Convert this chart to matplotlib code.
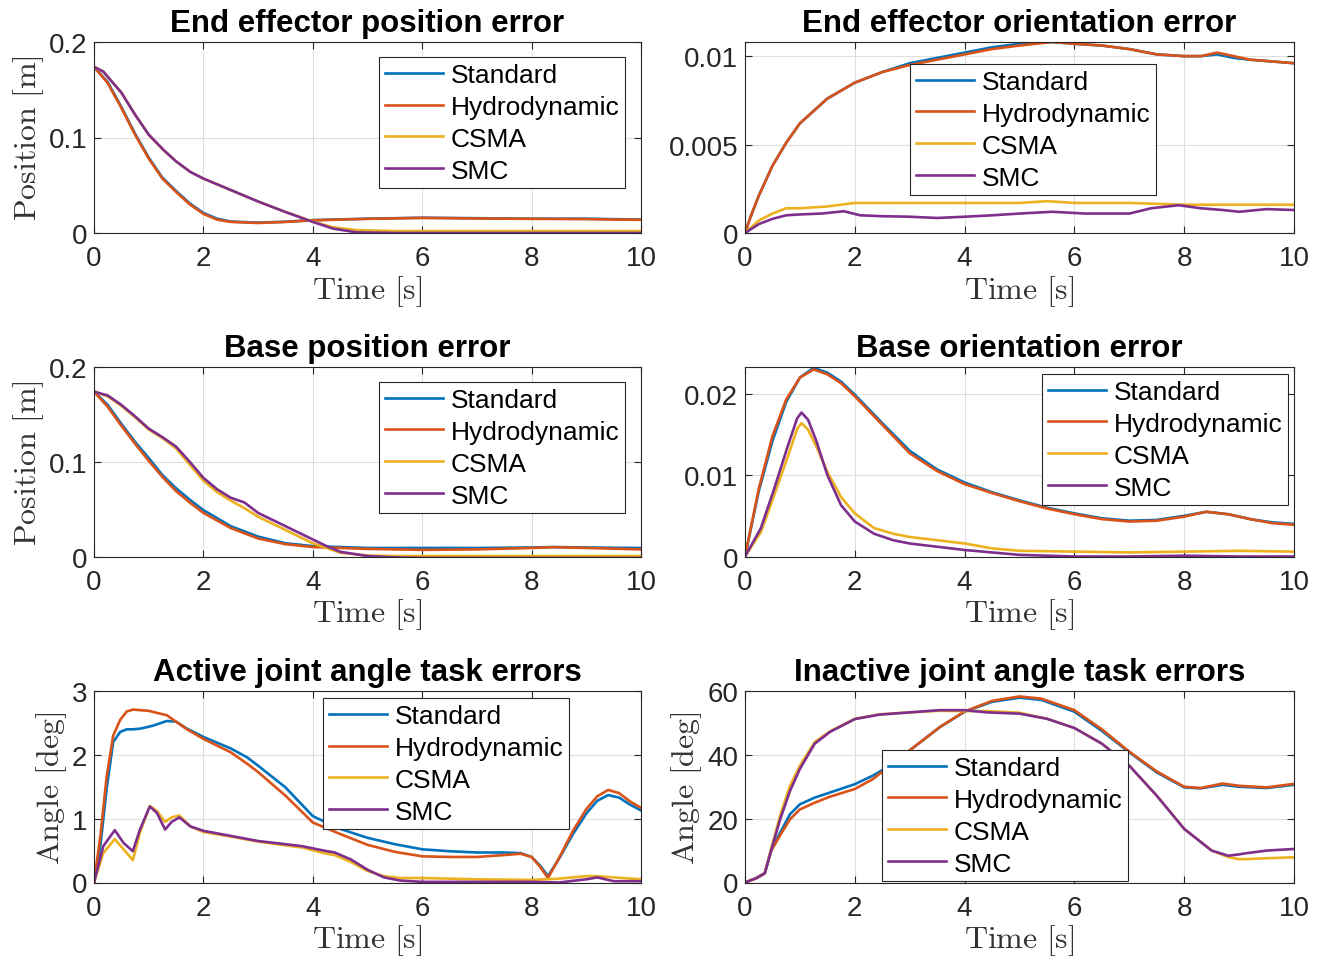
import matplotlib.pyplot as plt

plt.rcParams["font.family"] = ["Liberation Sans", "DejaVu Sans"]
plt.rcParams["mathtext.fontset"] = "cm"

# Series names and MATLAB default colours
names = ["Standard", "Hydrodynamic", "CSMA", "SMC"]
colors = ["#0072BD", "#D95319", "#EDB120", "#7E2F8E"]

# ---- End effector position error ----
t_eep_a = [0, 0.25, 0.5, 0.75, 1.0, 1.25, 1.5, 1.75, 2.0, 2.25, 2.5, 3.0, 3.5, 4.0, 5.0, 6.0, 7.0, 8.0, 9.0, 10.0]
eep_std = [0.174, 0.158, 0.132, 0.104, 0.079, 0.058, 0.044, 0.031, 0.021, 0.015, 0.012, 0.0108, 0.0118, 0.0135, 0.015, 0.016, 0.0155, 0.015, 0.015, 0.014]
eep_hyd = [0.174, 0.157, 0.131, 0.103, 0.078, 0.057, 0.043, 0.030, 0.020, 0.014, 0.0116, 0.0105, 0.0116, 0.0133, 0.0148, 0.0158, 0.0152, 0.0148, 0.0145, 0.0138]
t_eep_b = [0, 0.17, 0.5, 0.75, 1.0, 1.27, 1.5, 1.76, 2.0, 2.5, 3.0, 3.5, 4.0, 4.37, 4.8, 5.5, 6.0, 8.0, 10.0]
eep_csma = [0.174, 0.169, 0.147, 0.124, 0.103, 0.087, 0.075, 0.064, 0.057, 0.045, 0.033, 0.022, 0.012, 0.006, 0.003, 0.002, 0.002, 0.002, 0.002]
eep_smc = [0.174, 0.169, 0.147, 0.124, 0.103, 0.087, 0.075, 0.064, 0.057, 0.045, 0.033, 0.022, 0.0116, 0.0046, 0.0007, 0.0, 0.0, 0.0, 0.0]

# ---- End effector orientation error ----
t_eeo_a = [0, 0.1, 0.25, 0.5, 0.75, 1.0, 1.5, 2.0, 2.5, 3.0, 3.5, 4.0, 4.5, 5.0, 5.6, 6.0, 6.5, 7.0, 7.5, 8.0, 8.3, 8.6, 8.9, 9.2, 9.6, 10.0]
eeo_std = [0, 0.0009, 0.0021, 0.0038, 0.0051, 0.0062, 0.0076, 0.0085, 0.0091, 0.0096, 0.0099, 0.0102, 0.0105, 0.0107, 0.0108, 0.0107, 0.0106, 0.0104, 0.0101, 0.0100, 0.0100, 0.0101, 0.0099, 0.0098, 0.0097, 0.0096]
eeo_hyd = [0, 0.0009, 0.0021, 0.0038, 0.0051, 0.0062, 0.0076, 0.0085, 0.0091, 0.0095, 0.0098, 0.0101, 0.0104, 0.0106, 0.0108, 0.0107, 0.0106, 0.0104, 0.0101, 0.0100, 0.0100, 0.0102, 0.0100, 0.0098, 0.0097, 0.0096]
t_eeo_c = [0, 0.25, 0.5, 0.75, 1.0, 1.5, 2.0, 3.0, 4.0, 5.0, 5.5, 6.0, 7.0, 8.0, 9.0, 10.0]
eeo_csma = [0, 0.0007, 0.0011, 0.0014, 0.0014, 0.0015, 0.0017, 0.0017, 0.0017, 0.0017, 0.0018, 0.0017, 0.0017, 0.0016, 0.0016, 0.0016]
t_eeo_s = [0, 0.25, 0.5, 0.75, 1.0, 1.4, 1.8, 2.1, 2.5, 3.0, 3.5, 4.0, 4.5, 5.0, 5.6, 6.2, 7.0, 7.4, 7.9, 8.3, 8.7, 9.0, 9.5, 10.0]
eeo_smc = [0, 0.0005, 0.0008, 0.001, 0.00105, 0.0011, 0.00123, 0.001, 0.00095, 0.00092, 0.00085, 0.00092, 0.001, 0.0011, 0.0012, 0.0011, 0.0011, 0.0014, 0.00157, 0.0014, 0.0013, 0.0012, 0.00135, 0.0013]

# ---- Base position error ----
t_bp_a = [0, 0.25, 0.5, 0.75, 1.0, 1.25, 1.5, 1.75, 2.0, 2.5, 3.0, 3.5, 4.0, 4.5, 5.0, 6.0, 7.0, 8.0, 8.4, 9.0, 10.0]
bp_std = [0.174, 0.160, 0.140, 0.121, 0.104, 0.086, 0.072, 0.060, 0.049, 0.032, 0.021, 0.014, 0.011, 0.010, 0.009, 0.009, 0.009, 0.0095, 0.010, 0.0095, 0.009]
bp_hyd = [0.174, 0.158, 0.138, 0.119, 0.101, 0.084, 0.069, 0.057, 0.046, 0.030, 0.019, 0.013, 0.010, 0.009, 0.008, 0.007, 0.0075, 0.009, 0.0098, 0.009, 0.0075]
t_bp_b = [0, 0.25, 0.5, 0.75, 1.0, 1.25, 1.5, 1.75, 2.0, 2.25, 2.5, 2.75, 3.0, 3.5, 4.0, 4.25, 4.5, 5.0, 5.5, 6.0, 8.0, 10.0]
bp_csma = [0.174, 0.169, 0.159, 0.147, 0.134, 0.125, 0.114, 0.097, 0.080, 0.068, 0.059, 0.051, 0.042, 0.028, 0.014, 0.009, 0.004, 0.001, 0.0005, 0.0005, 0.0005, 0.0005]
bp_smc = [0.174, 0.170, 0.160, 0.148, 0.135, 0.126, 0.116, 0.100, 0.083, 0.071, 0.062, 0.057, 0.046, 0.032, 0.018, 0.011, 0.005, 0.0005, -0.001, -0.0015, -0.0015, -0.0015]

# ---- Base orientation error ----
t_bo_a = [0, 0.25, 0.5, 0.75, 1.0, 1.25, 1.5, 1.75, 2.0, 2.5, 3.0, 3.5, 4.0, 4.5, 5.0, 5.5, 6.0, 6.5, 7.0, 7.5, 8.0, 8.4, 8.8, 9.2, 9.6, 10.0]
bo_std = [0, 0.0080, 0.0142, 0.0190, 0.0220, 0.0232, 0.0226, 0.0215, 0.0199, 0.0164, 0.0130, 0.0107, 0.0091, 0.0079, 0.0069, 0.0060, 0.0053, 0.0047, 0.0044, 0.0045, 0.0050, 0.0055, 0.0052, 0.0046, 0.0042, 0.0040]
bo_hyd = [0, 0.0083, 0.0148, 0.0193, 0.0220, 0.0230, 0.0224, 0.0213, 0.0197, 0.0162, 0.0127, 0.0105, 0.0089, 0.0078, 0.0068, 0.0059, 0.0052, 0.0046, 0.0043, 0.0044, 0.0049, 0.0055, 0.0052, 0.0046, 0.0041, 0.0039]
t_bo_b = [0, 0.29, 0.53, 0.78, 0.95, 1.03, 1.15, 1.3, 1.5, 1.75, 2.0, 2.35, 2.7, 3.0, 3.5, 4.0, 4.5, 5.0, 6.0, 7.0, 8.0, 9.0, 10.0]
bo_csma = [0, 0.0030, 0.0075, 0.0123, 0.0157, 0.0164, 0.0156, 0.0135, 0.0104, 0.0073, 0.0053, 0.0035, 0.0028, 0.0024, 0.0020, 0.0016, 0.0010, 0.0007, 0.0006, 0.0005, 0.0006, 0.0007, 0.0006]
bo_smc = [0, 0.0035, 0.0083, 0.0136, 0.0170, 0.0177, 0.0168, 0.0142, 0.0100, 0.0063, 0.0043, 0.0028, 0.0020, 0.0016, 0.0012, 0.0008, 0.0005, 0.0002, 0.0, 0.0, 0.0001, 0.0, 0.0]

# ---- Active joint angle task errors ----
t_aj_a = [0, 0.12, 0.23, 0.35, 0.48, 0.6, 0.72, 0.84, 1.0, 1.09, 1.33, 1.5, 1.7, 2.0, 2.5, 2.8, 3.0, 3.5, 4.0, 4.5, 5.0, 5.5, 6.0, 6.5, 7.0, 7.5, 7.8, 8.0, 8.15, 8.3, 8.5, 8.75, 9.0, 9.2, 9.4, 9.6, 9.8, 10.0]
aj_std = [0, 0.6, 1.46, 2.2, 2.36, 2.4, 2.4, 2.41, 2.44, 2.46, 2.53, 2.52, 2.41, 2.28, 2.1, 1.96, 1.83, 1.49, 1.04, 0.84, 0.7, 0.6, 0.52, 0.49, 0.47, 0.47, 0.46, 0.4, 0.27, 0.1, 0.37, 0.75, 1.08, 1.28, 1.37, 1.33, 1.22, 1.13]
aj_hyd = [0, 0.75, 1.65, 2.3, 2.55, 2.68, 2.71, 2.7, 2.69, 2.67, 2.62, 2.52, 2.4, 2.25, 2.04, 1.86, 1.73, 1.36, 0.94, 0.76, 0.59, 0.48, 0.41, 0.4, 0.4, 0.43, 0.45, 0.4, 0.25, 0.07, 0.38, 0.8, 1.15, 1.35, 1.45, 1.4, 1.27, 1.17]
t_aj_b = [0, 0.17, 0.38, 0.54, 0.71, 0.84, 1.02, 1.15, 1.3, 1.42, 1.56, 1.76, 2.0, 2.5, 3.0, 3.6, 3.8, 4.2, 4.4, 4.7, 5.0, 5.3, 5.6, 6.0, 7.0, 8.0, 8.5, 9.0, 9.2, 9.5, 10.0]
aj_csma = [0, 0.46, 0.68, 0.52, 0.35, 0.78, 1.2, 1.12, 0.95, 1.02, 1.05, 0.88, 0.79, 0.72, 0.64, 0.57, 0.55, 0.46, 0.43, 0.32, 0.18, 0.1, 0.07, 0.07, 0.05, 0.04, 0.06, 0.1, 0.1, 0.08, 0.05]
aj_smc = [0, 0.57, 0.82, 0.62, 0.49, 0.83, 1.19, 1.09, 0.83, 0.95, 1.02, 0.88, 0.81, 0.73, 0.65, 0.59, 0.57, 0.5, 0.47, 0.36, 0.2, 0.08, 0.03, 0.01, 0.01, 0.01, 0.0, 0.05, 0.08, 0.02, 0.02]

# ---- Inactive joint angle task errors ----
t_ij = [0, 0.21, 0.36, 0.48, 0.64, 0.82, 1.0, 1.27, 1.55, 2.0, 2.33, 2.64, 3.0, 3.55, 4.0, 4.5, 5.0, 5.4, 6.0, 6.5, 7.0, 7.5, 8.0, 8.3, 8.7, 9.0, 9.5, 10.0]
ij_std = [0, 1.4, 2.9, 10.3, 15.6, 21.4, 24.5, 26.6, 28.2, 30.8, 33.5, 36.6, 41.4, 48.7, 53.5, 56.6, 57.9, 57.2, 53.5, 47.5, 40.8, 34.5, 29.8, 29.5, 30.6, 30.0, 29.6, 30.6]
ij_hyd = [0, 1.4, 2.9, 10.0, 14.8, 19.8, 22.9, 25.0, 26.9, 29.3, 32.4, 36.6, 41.4, 48.7, 53.6, 56.9, 58.3, 57.6, 54.0, 48.0, 41.0, 34.8, 30.0, 29.6, 31.0, 30.3, 29.8, 30.9]
t_ij_b = [0, 0.21, 0.36, 0.48, 0.64, 0.82, 1.0, 1.27, 1.55, 2.0, 2.45, 3.0, 3.55, 4.0, 4.4, 5.0, 5.5, 6.0, 6.5, 7.0, 7.5, 8.0, 8.5, 8.8, 9.0, 9.1, 9.5, 10.0]
ij_csma = [0, 1.4, 2.9, 10.8, 21.0, 30.3, 36.6, 44.0, 47.4, 51.3, 52.7, 53.3, 53.8, 53.7, 53.7, 53.2, 51.3, 48.4, 43.5, 36.6, 27.2, 16.8, 10.0, 8.0, 7.3, 7.3, 7.6, 7.9]
ij_smc = [0, 1.4, 2.9, 10.3, 19.8, 28.7, 35.6, 43.5, 47.2, 51.2, 52.6, 53.3, 54.0, 54.0, 53.3, 52.9, 51.3, 48.4, 43.5, 36.6, 27.2, 16.8, 10.0, 8.4, 8.8, 9.1, 10.0, 10.5]

panels = [
    ("End effector position error", "Position [m]",
     [(t_eep_a, eep_std), (t_eep_a, eep_hyd), (t_eep_b, eep_csma), (t_eep_b, eep_smc)],
     0.2, [0, 0.1, 0.2], ["0", "0.1", "0.2"], (0.521, 0.921)),
    ("End effector orientation error", None,
     [(t_eeo_a, eeo_std), (t_eeo_a, eeo_hyd), (t_eeo_c, eeo_csma), (t_eeo_s, eeo_smc)],
     0.0108, [0, 0.005, 0.01], ["0", "0.005", "0.01"], (0.3005, 0.885)),
    ("Base position error", "Position [m]",
     [(t_bp_a, bp_std), (t_bp_a, bp_hyd), (t_bp_b, bp_csma), (t_bp_b, bp_smc)],
     0.2, [0, 0.1, 0.2], ["0", "0.1", "0.2"], (0.521, 0.921)),
    ("Base orientation error", None,
     [(t_bo_a, bo_std), (t_bo_a, bo_hyd), (t_bo_b, bo_csma), (t_bo_b, bo_smc)],
     0.0233, [0, 0.01, 0.02], ["0", "0.01", "0.02"], (0.541, 0.963)),
    ("Active joint angle task errors", "Angle [deg]",
     [(t_aj_a, aj_std), (t_aj_a, aj_hyd), (t_aj_b, aj_csma), (t_aj_b, aj_smc)],
     3, [0, 1, 2, 3], ["0", "1", "2", "3"], (0.4187, 0.963)),
    ("Inactive joint angle task errors", "Angle [deg]",
     [(t_ij, ij_std), (t_ij, ij_hyd), (t_ij_b, ij_csma), (t_ij_b, ij_smc)],
     60, [0, 20, 40, 60], ["0", "20", "40", "60"], (0.2495, 0.692)),
]

W, H = 1320, 962
col_x = [(94, 641), (745, 1294)]
row_y = [(43, 234), (368, 557.5), (692, 883.5)]
x_ticks = [0, 2, 4, 6, 8, 10]

fig = plt.figure(figsize=(W / 100, H / 100), dpi=100)

for i, (title, ylabel, series, ymax, yt, ytl, leg_pos) in enumerate(panels):
    x0, x1 = col_x[i % 2]
    y0, y1 = row_y[i // 2]
    ax = fig.add_axes([x0 / W, 1 - y1 / H, (x1 - x0) / W, (y1 - y0) / H])
    for (t, v), name, c in zip(series, names, colors):
        ax.plot(t, v, color=c, lw=1.9, label=name)
    ax.set_xlim(0, 10)
    ax.set_ylim(0, ymax)
    ax.set_xticks(x_ticks)
    ax.set_xticklabels([str(x) for x in x_ticks])
    ax.set_yticks(yt)
    ax.set_yticklabels(ytl)
    ax.grid(True, color="#dfdfdf", lw=0.8)
    ax.set_axisbelow(True)
    ax.tick_params(direction="in", top=True, right=True, length=5, width=0.8,
                   labelsize=20, colors="#262626", pad=5)
    ax.tick_params(axis="x", pad=9)
    for sp in ax.spines.values():
        sp.set_color("#262626")
        sp.set_linewidth(0.8)
    ax.set_title(title, fontsize=22.5, fontweight="bold", pad=8)
    ax.set_xlabel(r"$\mathrm{Time\ [s]}$", fontsize=23, color="#333333", labelpad=1)
    if ylabel:
        ax.set_ylabel(r"$\mathrm{" + ylabel.replace(" ", r"\ ") + "}$", fontsize=23,
                      color="#333333", labelpad=2)
    leg = ax.legend(loc="upper left", bbox_to_anchor=leg_pos, borderaxespad=0,
                    fontsize=19, handlelength=2.2, handletextpad=0.3,
                    labelspacing=0.3, borderpad=0.22, fancybox=False,
                    framealpha=1, edgecolor="#262626")
    leg.get_frame().set_linewidth(0.8)

fig.savefig("out.png", dpi=100)
